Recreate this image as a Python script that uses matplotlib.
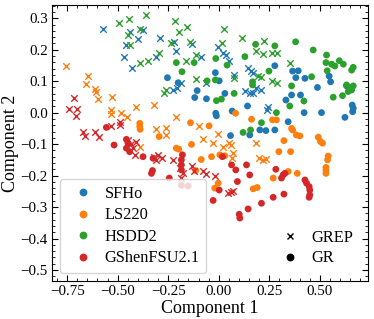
import matplotlib
matplotlib.use("Agg")
import matplotlib.pyplot as plt
from matplotlib.lines import Line2D
from matplotlib.ticker import MultipleLocator

plt.rcParams['font.family'] = ['Liberation Serif', 'DejaVu Serif']

eos_names = ["SFHo", "LS220", "HSDD2", "GShenFSU2.1"]
eos_colors = ["#1f77b4", "#ff7f0e", "#2ca02c", "#d62728"]

# SFHo
sfho_grep_x = [-0.571, -0.441, -0.375, -0.399, -0.460, -0.469, -0.427, -0.292, -0.223, -0.213,
               -0.309, -0.135, -0.086, -0.061, -0.226, -0.206, -0.185, -0.003, 0.021, 0.038,
               0.051, 0.076, 0.145, 0.157, 0.167, 0.129, 0.153, 0.170, 0.186, 0.211, 0.244, 0.236]
sfho_grep_y = [0.265, 0.255, 0.262, 0.233, 0.215, 0.176, 0.143, 0.236, 0.225, 0.197,
               0.176, 0.217, 0.176, 0.093, 0.072, 0.077, 0.093, 0.210, 0.188, 0.183,
               0.164, 0.120, 0.141, 0.133, 0.127, 0.070, 0.061, 0.061, 0.077, 0.072, 0.019, 0.008]
sfho_gr_x = [-0.254, -0.201, -0.107, -0.119, -0.061, -0.017, 0.002, 0.030, -0.015, -0.012,
             0.066, 0.058, 0.142, 0.153, 0.203, 0.233, 0.277, 0.277, 0.365, 0.393,
             0.381, 0.426, 0.332, 0.360, 0.404, 0.488, 0.343, 0.422, 0.508, 0.546,
             0.553, 0.624, 0.632, 0.660, 0.665, 0.662]
sfho_gr_y = [0.111, 0.095, 0.070, 0.048, 0.044, 0.127, 0.101, 0.061, -0.002, -0.010,
             0.005, -0.073, 0.021, -0.071, -0.055, -0.057, -0.055, 0.149, 0.132, 0.133,
             0.111, 0.109, 0.040, 0.056, 0.056, 0.080, -0.029, 0.000, 0.000, 0.116,
             0.098, -0.015, 0.085, 0.024, 0.014, 0.003]

# LS220
ls220_grep_x = [-0.757, -0.647, -0.658, -0.611, -0.609, -0.597, -0.526, -0.535, -0.531, -0.482,
                -0.452, -0.408, -0.320, -0.213, -0.309, -0.262, -0.259, -0.388, -0.078, -0.031,
                -0.003, 0.021, 0.051, 0.058, 0.071, 0.063, 0.186, 0.200, 0.219, 0.233, -0.097]
ls220_grep_y = [0.148, 0.116, 0.090, 0.074, 0.067, 0.043, 0.051, 0.008, -0.004, 0.000,
                -0.015, 0.019, 0.024, -0.013, -0.053, -0.050, -0.071, -0.110, -0.085, -0.095,
                -0.069, -0.108, -0.095, -0.103, -0.127, -0.143, -0.097, -0.143, -0.150, -0.148, -0.044]
ls220_gr_x = [-0.391, -0.391, -0.389, -0.295, -0.210, -0.198, -0.140, -0.135, -0.048, -0.087,
              -0.114, -0.036, -0.003, -0.020, 0.083, 0.162, 0.266, 0.285, 0.360, 0.365,
              0.384, 0.401, 0.492, 0.503, 0.513, 0.322, 0.297, 0.355, 0.541, 0.538,
              0.530, 0.530, 0.530, 0.343, 0.388, 0.269, 0.170, 0.190, 0.005, 0.030]
ls220_gr_y = [-0.034, -0.044, -0.053, -0.076, -0.113, -0.116, -0.032, -0.101, -0.042, -0.149,
              -0.184, -0.140, -0.224, -0.240, -0.002, -0.021, -0.023, -0.023, -0.050, -0.055,
              -0.071, -0.074, -0.078, -0.092, -0.097, -0.089, -0.124, -0.124, -0.138, -0.150,
              -0.174, -0.184, -0.193, -0.187, -0.193, -0.208, -0.242, -0.238, -0.134, -0.137]

# HSDD2
hsdd2_grep_x = [-0.493, -0.444, -0.361, -0.388, -0.449, -0.437, -0.218, -0.155, -0.196, -0.234,
                -0.144, -0.295, -0.391, -0.350, -0.160, -0.111, -0.111, -0.272, -0.259, 0.025,
                0.018, 0.117, 0.223, 0.182, 0.219, 0.261, 0.289, 0.351, 0.076, 0.195,
                0.211, 0.261, 0.289]
hsdd2_grep_y = [0.286, 0.299, 0.310, 0.265, 0.247, 0.215, 0.292, 0.273, 0.255, 0.220,
                0.225, 0.188, 0.159, 0.164, 0.164, 0.183, 0.107, 0.061, 0.072, 0.266,
                0.220, 0.238, 0.229, 0.197, 0.186, 0.188, 0.190, 0.159, 0.109, 0.116,
                0.112, 0.101, 0.095]
hsdd2_gr_x = [-0.210, -0.182, -0.122, -0.058, -0.017, -0.012, 0.013, -0.015, 0.041, 0.076,
              0.129, 0.182, 0.277, 0.248, 0.167, 0.167, 0.360, 0.285, 0.211, 0.120,
              0.157, 0.380, 0.467, 0.533, 0.530, 0.558, 0.596, 0.616, 0.574, 0.665,
              0.657, 0.536, 0.459, 0.421, 0.351, 0.566, 0.612, 0.632, 0.649, 0.657,
              0.640, 0.665]
hsdd2_gr_y = [0.159, 0.130, 0.159, 0.101, 0.104, 0.038, 0.043, 0.172, 0.151, 0.061,
              0.178, 0.217, 0.212, 0.132, 0.098, 0.088, 0.085, 0.000, -0.032, -0.063,
              -0.055, 0.225, 0.199, 0.183, 0.159, 0.154, 0.165, 0.154, 0.148, 0.144,
              0.135, 0.133, 0.114, 0.037, 0.021, 0.049, 0.054, 0.088, 0.080, 0.072,
              0.067, 0.085]

# GShenFSU2.1
gshen_grep_x = [-0.718, -0.741, -0.701, -0.708, -0.672, -0.663, -0.614, -0.592, -0.531, -0.490,
                -0.490, -0.449, -0.432, -0.411, -0.424, -0.416, -0.320, -0.300, -0.309, -0.279,
                -0.226, -0.193, -0.177, -0.185, -0.135, -0.124, -0.078, -0.061, -0.020, 0.046,
                0.058, 0.071]
gshen_grep_y = [0.048, 0.011, 0.011, -0.011, -0.063, -0.074, -0.063, -0.076, -0.042, -0.029,
                -0.039, -0.087, -0.099, -0.092, -0.113, -0.134, -0.140, -0.134, -0.150, -0.145,
                -0.152, -0.177, -0.193, -0.208, -0.171, -0.184, -0.187, -0.195, -0.201, -0.254,
                -0.251, -0.248]
gshen_gr_x = [-0.556, -0.518, -0.457, -0.449, -0.457, -0.441, -0.375, -0.328, -0.333, -0.325,
              -0.245, -0.180, -0.185, -0.185, -0.185, -0.185, -0.152, -0.028, 0.002, 0.018,
              0.063, 0.084, 0.092, 0.137, 0.153, 0.101, 0.104, 0.145, 0.211, 0.269,
              0.322, 0.282, 0.310, 0.318, 0.327, 0.426, 0.434, 0.447, 0.450, 0.450, 0.447]
gshen_gr_y = [-0.047, -0.103, -0.085, -0.097, -0.113, -0.124, -0.140, -0.184, -0.193, -0.145,
              -0.208, -0.134, -0.150, -0.166, -0.182, -0.231, -0.233, -0.279, -0.246, -0.140,
              -0.166, -0.182, -0.219, -0.166, -0.198, -0.323, -0.335, -0.306, -0.288, -0.269,
              -0.259, -0.180, -0.208, -0.198, -0.193, -0.214, -0.224, -0.235, -0.246, -0.261, -0.269]

series = [
    (sfho_grep_x, sfho_grep_y, sfho_gr_x, sfho_gr_y),
    (ls220_grep_x, ls220_grep_y, ls220_gr_x, ls220_gr_y),
    (hsdd2_grep_x, hsdd2_grep_y, hsdd2_gr_x, hsdd2_gr_y),
    (gshen_grep_x, gshen_grep_y, gshen_gr_x, gshen_gr_y),
]

fig = plt.figure(figsize=(3.74, 3.19), dpi=100)
ax = fig.add_axes([52/374, 1-281/319, 316/374, 276/319])

for (gx, gy, rx, ry), col in zip(series, eos_colors):
    ax.scatter(gx, gy, marker='x', s=22, color=col, linewidths=1.0)
    ax.scatter(rx, ry, marker='o', s=24, color=col, edgecolors='none')

ax.set_xlim(-0.825, 0.738)
ax.set_ylim(-0.535, 0.342)
ax.set_xticks([-0.75, -0.5, -0.25, 0.0, 0.25, 0.5])
ax.set_xticklabels(["\u22120.75", "\u22120.50", "\u22120.25", "0.00", "0.25", "0.50"])
ax.set_yticks([0.3, 0.2, 0.1, 0.0, -0.1, -0.2, -0.3, -0.4, -0.5])
ax.set_yticklabels(["0.3", "0.2", "0.1", "0.0", "\u22120.1", "\u22120.2", "\u22120.3", "\u22120.4", "\u22120.5"])
ax.xaxis.set_minor_locator(MultipleLocator(0.05))
ax.yaxis.set_minor_locator(MultipleLocator(0.02))
ax.tick_params(which='both', direction='in', top=True, right=True, labelsize=10.8)
ax.tick_params(which='major', length=4.5, width=0.8, pad=3)
ax.tick_params(which='minor', length=2.5, width=0.6)
ax.set_xlabel("Component 1", fontsize=13, labelpad=1)
ax.set_ylabel("Component 2", fontsize=13, labelpad=1)

h1 = [Line2D([], [], marker='o', linestyle='none', color=c, markersize=4.6) for c in eos_colors]
leg1 = ax.legend(h1, eos_names, loc='lower left', fontsize=11.8, handletextpad=0.3,
                 handlelength=2.0, borderpad=0.4, labelspacing=0.33)
ax.add_artist(leg1)
h2 = [Line2D([], [], marker='x', linestyle='none', color='black', markersize=3.8, markeredgewidth=1.0),
      Line2D([], [], marker='o', linestyle='none', color='black', markersize=4.6)]
ax.legend(h2, ["GREP", "GR"], loc='lower right', fontsize=11.8, frameon=False,
          handletextpad=0.3, handlelength=2.0, labelspacing=0.25)

fig.savefig("out.png", dpi=100)
